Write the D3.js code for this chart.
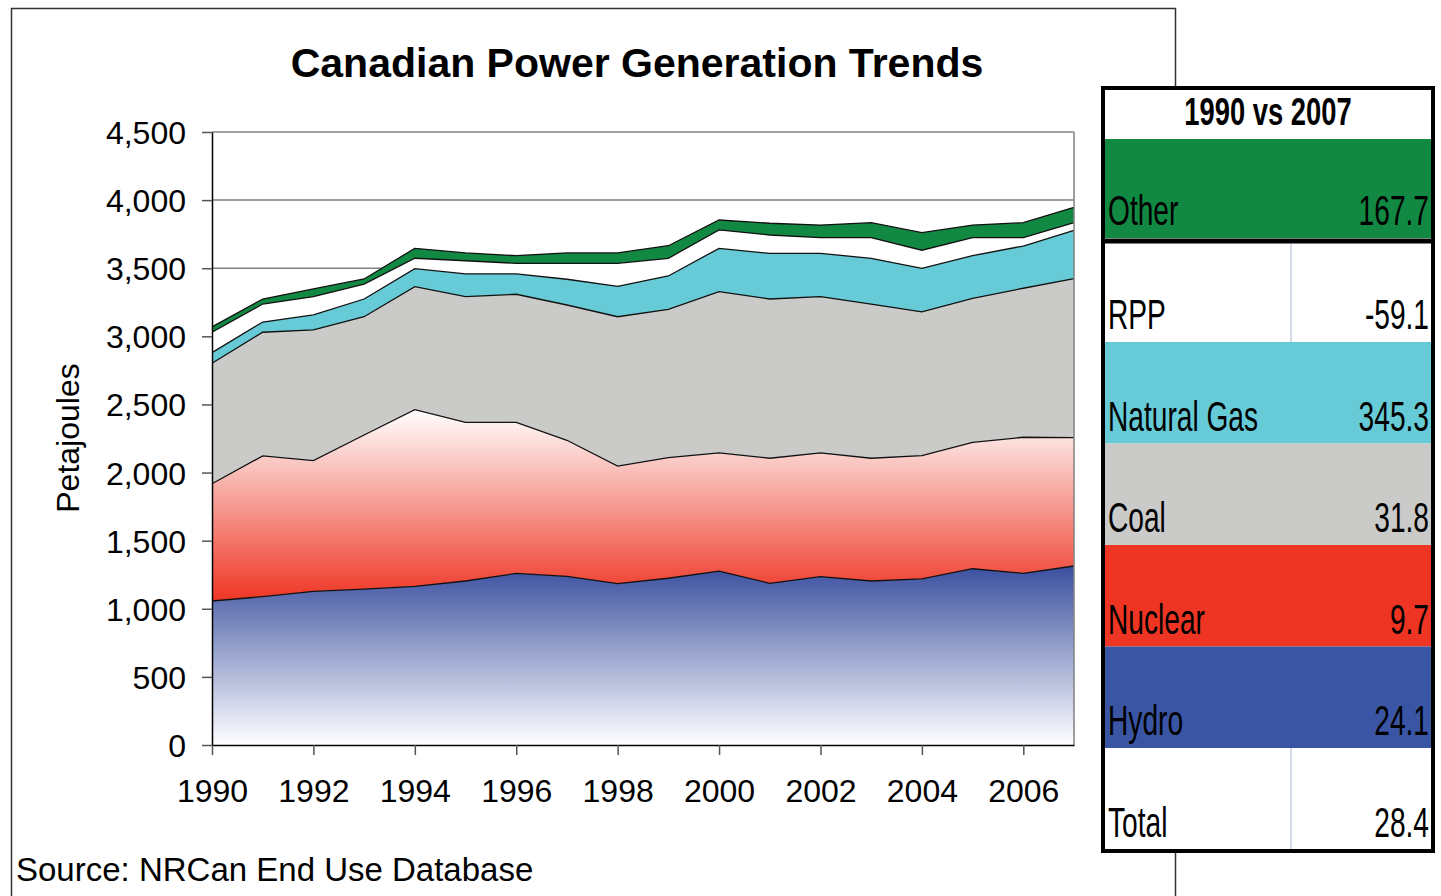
<!DOCTYPE html>
<html>
<head>
<meta charset="utf-8">
<script src="https://cdnjs.cloudflare.com/ajax/libs/d3/7.8.5/d3.min.js"></script>
<style>
  body { margin: 0; background: #fff; }
  text { font-family: "Liberation Sans", Arial, sans-serif; }
</style>
</head>
<body>
<script>
  var width = 1441;
  var height = 896;

  // data (petajoules)
  var years = [1990,1991,1992,1993,1994,1995,1996,1997,1998,1999,2000,2001,2002,2003,2004,2005,2006,2007];
  var hydro   = [1057,1089,1128,1145,1165,1204,1260,1238,1184,1224,1277,1187,1236,1204,1219,1294,1260,1314];
  var nuclear = [861,1033,959,1131,1297,1165,1109,999,864,885,867,918,908,901,905,928,999,942];
  var coal    = [884,908,960,868,903,922,940,993,1096,1089,1184,1169,1147,1132,1055,1057,1094,1167];
  var gas     = [78,75,110,130,132,167,149,189,223,245,318,335,318,336,320,313,310,355];
  var rpp     = [150,132,134,110,76,97,78,117,169,130,135,135,115,151,133,132,61,56];
  var other   = [39,37,57,37,73,57,56,76,76,92,73,86,93,110,129,93,110,113];

  var yTicks = [0,500,1000,1500,2000,2500,3000,3500,4000,4500];
  var xTicks = [1990,1992,1994,1996,1998,2000,2002,2004,2006];

  // table: 1990 vs 2007 % change
  var tableLabels = ["Other", "RPP", "Natural Gas", "Coal", "Nuclear", "Hydro", "Total"];
  var tableValues = ["167.7", "-59.1", "345.3", "31.8", "9.7", "24.1", "28.4"];
  var tableColors = ["#128942", "#ffffff", "#66cbd6", "#cacac8", "#ee3524", "#3a55a4", "#ffffff"];

  var keys = ["hydro", "nuclear", "coal", "gas", "rpp", "other"];
  var series = {hydro: hydro, nuclear: nuclear, coal: coal, gas: gas, rpp: rpp, other: other};

  var rows = years.map(function(y, i) {
    var r = {year: y};
    keys.forEach(function(k) { r[k] = series[k][i]; });
    return r;
  });

  var svg = d3.select("body").append("svg")
    .attr("width", width)
    .attr("height", height);

  // outer chart frame
  svg.append("path")
    .attr("d", "M11.5,900 V8.5 H1175.5 V900")
    .attr("fill", "none")
    .attr("stroke", "#333")
    .attr("stroke-width", 1.5);

  var plotLeft = 212, plotRight = 1074, plotTop = 132, plotBottom = 745;

  var x = d3.scaleLinear().domain([1990, 2007]).range([plotLeft, plotRight]);
  var y = d3.scaleLinear().domain([0, 4500]).range([plotBottom, plotTop]);

  var defs = svg.append("defs");
  var g1 = defs.append("linearGradient").attr("id", "hydroGrad")
    .attr("x1", "0%").attr("y1", "0%").attr("x2", "0%").attr("y2", "100%");
  g1.append("stop").attr("offset", "0%").attr("stop-color", "#3a4fa0");
  g1.append("stop").attr("offset", "100%").attr("stop-color", "#ffffff");
  var g2 = defs.append("linearGradient").attr("id", "nuclearGrad")
    .attr("x1", "0%").attr("y1", "0%").attr("x2", "0%").attr("y2", "100%");
  g2.append("stop").attr("offset", "0%").attr("stop-color", "#ffffff");
  g2.append("stop").attr("offset", "100%").attr("stop-color", "#ee3524");

  var fills = {
    hydro: "url(#hydroGrad)",
    nuclear: "url(#nuclearGrad)",
    coal: "#cacac8",
    gas: "#66cbd6",
    rpp: "#ffffff",
    other: "#128942"
  };

  // gridlines
  svg.append("g").selectAll("line")
    .data(yTicks.slice(1))
    .enter().append("line")
    .attr("x1", plotLeft).attr("x2", plotRight)
    .attr("y1", function(d) { return y(d); })
    .attr("y2", function(d) { return y(d); })
    .attr("stroke", "#808080")
    .attr("stroke-width", 1.5);

  var stacked = d3.stack().keys(keys)(rows);

  var area = d3.area()
    .x(function(d) { return x(d.data.year); })
    .y0(function(d) { return y(d[0]); })
    .y1(function(d) { return y(d[1]); });

  var topLine = d3.line()
    .x(function(d) { return x(d.data.year); })
    .y(function(d) { return y(d[1]); });

  svg.append("g").selectAll("path")
    .data(stacked)
    .enter().append("path")
    .attr("d", area)
    .attr("fill", function(d) { return fills[d.key]; });

  svg.append("g").selectAll("path")
    .data(stacked)
    .enter().append("path")
    .attr("d", topLine)
    .attr("fill", "none")
    .attr("stroke", "#111")
    .attr("stroke-width", 1.3);

  // plot border right side
  svg.append("line")
    .attr("x1", plotRight).attr("x2", plotRight).attr("y1", plotTop).attr("y2", plotBottom)
    .attr("stroke", "#808080").attr("stroke-width", 1.5);

  // axes
  var yAxis = d3.axisLeft(y).tickValues(yTicks).tickSize(10).tickSizeOuter(0).tickPadding(16)
    .tickFormat(d3.format(","));
  var gy = svg.append("g").attr("transform", "translate(" + plotLeft + ",0)").call(yAxis);
  var xAxis = d3.axisBottom(x).tickValues(xTicks).tickSize(10).tickSizeOuter(0).tickPadding(24)
    .tickFormat(d3.format("d"));
  var gx = svg.append("g").attr("transform", "translate(0," + plotBottom + ")").call(xAxis);

  [gx, gy].forEach(function(g) {
    g.select(".domain").attr("stroke", "#000").attr("stroke-width", 1.5);
    g.selectAll(".tick line").attr("stroke", "#555").attr("stroke-width", 1.5);
    g.selectAll(".tick text")
      .attr("fill", "#000")
      .style("font-family", "'Liberation Sans', Arial, sans-serif")
      .style("font-size", "32px");
  });
  gy.selectAll(".tick text").attr("dy", "0.36em");

  // title
  svg.append("text")
    .attr("x", 637).attr("y", 77)
    .attr("text-anchor", "middle")
    .style("font-size", "41px").style("font-weight", "bold")
    .text("Canadian Power Generation Trends");

  svg.append("text")
    .attr("transform", "translate(79,438) rotate(-90)")
    .attr("text-anchor", "middle")
    .style("font-size", "32px")
    .text("Petajoules");

  svg.append("text")
    .attr("x", 16).attr("y", 881)
    .style("font-size", "33px")
    .text("Source: NRCan End Use Database");

  // comparison table
  var tLeft = 1103, tRight = 1433, tTop = 88, tBottom = 851;
  var tbl = svg.append("g");
  tbl.append("rect")
    .attr("x", tLeft).attr("y", tTop)
    .attr("width", tRight - tLeft).attr("height", tBottom - tTop)
    .attr("fill", "#fff");

  var rowTop = function(i) { return i === 0 ? 139 : (i === 1 ? 244 : 342 + (i - 2) * 101.5); };
  var rowBottom = function(i) { return i === 0 ? 238 : 342 + (i - 1) * 101.5; };

  tbl.selectAll("rect.row")
    .data(tableLabels)
    .enter().append("rect")
    .attr("class", "row")
    .attr("x", tLeft)
    .attr("y", function(d, i) { return rowTop(i); })
    .attr("width", tRight - tLeft)
    .attr("height", function(d, i) { return rowBottom(i) - rowTop(i); })
    .attr("fill", function(d, i) { return tableColors[i]; });

  tbl.selectAll("line.sep")
    .data([1, 6])
    .enter().append("line")
    .attr("x1", 1291).attr("x2", 1291)
    .attr("y1", function(i) { return rowTop(i); })
    .attr("y2", function(i) { return rowBottom(i); })
    .attr("stroke", "#d3dae8").attr("stroke-width", 2);

  tbl.append("text")
    .attr("transform", "translate(1268,125) scale(0.72,1)")
    .attr("text-anchor", "middle")
    .style("font-size", "38px").style("font-weight", "bold")
    .text("1990 vs 2007");

  tbl.selectAll("text.lbl")
    .data(tableLabels)
    .enter().append("text")
    .attr("class", "lbl")
    .attr("transform", function(d, i) {
      return "translate(1108," + (rowBottom(i) - 13) + ") scale(0.67,1)";
    })
    .style("font-size", "42px")
    .text(function(d) { return d; });

  tbl.selectAll("text.val")
    .data(tableValues)
    .enter().append("text")
    .attr("class", "val")
    .attr("transform", function(d, i) {
      return "translate(1429," + (rowBottom(i) - 13) + ") scale(0.67,1)";
    })
    .attr("text-anchor", "end")
    .style("font-size", "42px")
    .text(function(d) { return d; });

  // thick separator under "Other" and outer border
  tbl.append("line")
    .attr("x1", tLeft).attr("x2", tRight)
    .attr("y1", 241).attr("y2", 241)
    .attr("stroke", "#000").attr("stroke-width", 5);
  tbl.append("rect")
    .attr("x", tLeft).attr("y", tTop)
    .attr("width", tRight - tLeft).attr("height", tBottom - tTop)
    .attr("fill", "none")
    .attr("stroke", "#000").attr("stroke-width", 4);
</script>
</body>
</html>
